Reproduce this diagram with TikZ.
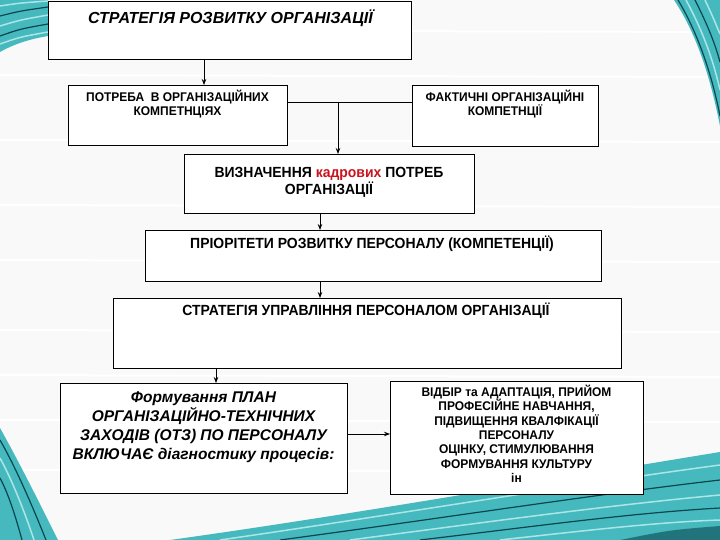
\documentclass[tikz,border=0pt]{standalone}
\usepackage{fontspec}
\setmainfont{Liberation Sans}
\newfontfamily\narrow[FakeStretch=0.95]{Liberation Sans}
\usetikzlibrary{arrows.meta}
\definecolor{tealA}{RGB}{70,185,190}
\definecolor{tealL}{RGB}{170,230,230}
\definecolor{tealD}{RGB}{10,70,80}
\definecolor{redword}{RGB}{200,20,30}
\begin{document}
\begin{tikzpicture}[x=1pt,y=-1pt,
  box/.style={draw=black, line width=0.8pt, fill=white, inner sep=0pt, anchor=north west},
  txt/.style={inner sep=0pt, anchor=north, align=center},
  arr/.style={draw=black, line width=0.8pt, -{Stealth[length=6pt,width=4.5pt]}},
  conn/.style={draw=black, line width=0.8pt},
  streakD/.style={draw=tealD, line width=1.2pt},
  streakL/.style={draw=tealL, line width=1.5pt}]
\useasboundingbox (0,0) rectangle (720,540);
\fill[gray!5] (0,0) rectangle (720,540);
\foreach \yy in {30,75,140,205,260,330,375,420,470}{
  \draw[white, line width=2pt] (0,\yy) -- (720,\yy+2);
}
% top-left swoosh
\fill[tealA] (0,0) -- (48,0) -- (48,36) .. controls (30,39) and (14,44) .. (0,52) -- cycle;
\draw[streakL] (0,6) .. controls (20,3) .. (48,1);
\draw[streakD] (0,16) .. controls (20,11) .. (48,7);
\draw[streakL] (0,26) .. controls (20,20) .. (48,15);
\draw[streakD] (0,36) .. controls (20,29) .. (48,24);
\draw[streakL] (0,44) .. controls (20,37) .. (48,32);
% top-right swoosh
\fill[tealA] (674,0) .. controls (694,30) and (709,70) .. (720,126) -- (720,0) -- cycle;
\draw[streakD] (678,0) .. controls (696,30) and (711,70) .. (720,116);
\draw[streakL] (686,0) .. controls (701,28) and (712,55) .. (720,90);
\draw[streakD] (695,0) .. controls (706,22) and (714,40) .. (720,62);
\draw[streakL] (705,0) .. controls (712,15) .. (720,34);
% bottom-left swoosh
\fill[tealA] (0,428) .. controls (18,460) and (38,500) .. (58,540) -- (0,540) -- cycle;
\draw[streakD] (0,440) .. controls (16,468) and (32,505) .. (46,540);
\draw[streakL] (0,458) .. controls (12,480) and (24,510) .. (34,540);
\draw[streakD] (0,478) .. controls (9,495) and (16,518) .. (22,540);
% bottom-right swoosh
\fill[tealA] (170,540) .. controls (350,515) and (560,478) .. (720,452) -- (720,540) -- cycle;
\draw[streakL] (220,540) .. controls (380,517) and (570,485) .. (720,465);
\draw[streakD] (280,540) .. controls (430,520) and (590,495) .. (720,480);
\draw[streakL] (350,540) .. controls (480,523) and (610,505) .. (720,495);
\draw[streakD] (420,540) .. controls (530,527) and (630,513) .. (720,508);
\draw[streakL] (500,540) .. controls (590,530) and (660,522) .. (720,520);
\fill[tealD, opacity=0.6] (620,540) .. controls (670,530) .. (720,526) -- (720,540) -- cycle;

% boxes
\node[box, minimum width=363pt, minimum height=58pt] (b1) at (48,1) {};
\node[box, minimum width=219pt, minimum height=60pt] (b2) at (68,85) {};
\node[box, minimum width=186pt, minimum height=61pt] (b3) at (412,85) {};
\node[box, minimum width=290pt, minimum height=59pt] (b4) at (184,154) {};
\node[box, minimum width=456pt, minimum height=51pt] (b5) at (145,230) {};
\node[box, minimum width=508pt, minimum height=70pt] (b6) at (113,298) {};
\node[box, minimum width=287pt, minimum height=110pt] (b7) at (60,383) {};
\node[box, minimum width=253pt, minimum height=113pt] (b8) at (390,381) {};

% texts
\node[txt, font=\fontsize{16}{18}\selectfont\bfseries\itshape] (t1) at (230.5,10) {СТРАТЕГІЯ РОЗВИТКУ ОРГАНІЗАЦІЇ};
\node[txt, font=\narrow\fontsize{12.6}{14}\selectfont\bfseries] (t2) at (177.5,90) {ПОТРЕБА\ \ В ОРГАНІЗАЦІЙНИХ\\КОМПЕТНЦІЯХ};
\node[txt, font=\narrow\fontsize{12.6}{14}\selectfont\bfseries] (t3) at (505,90) {ФАКТИЧНІ ОРГАНІЗАЦІЙНІ\\КОМПЕТНЦІЇ};
\node[txt, font=\narrow\fontsize{14.7}{17.5}\selectfont\bfseries] (t4) at (329,167) {ВИЗНАЧЕННЯ \textcolor{redword}{кадрових} ПОТРЕБ\\ОРГАНІЗАЦІЇ};
\node[txt, font=\narrow\fontsize{14.7}{17}\selectfont\bfseries] (t5) at (372,236) {ПРІОРІТЕТИ РОЗВИТКУ ПЕРСОНАЛУ (КОМПЕТЕНЦІЇ)};
\node[txt, font=\narrow\fontsize{14.7}{17}\selectfont\bfseries] (t6) at (366,303) {СТРАТЕГІЯ УПРАВЛІННЯ ПЕРСОНАЛОМ ОРГАНІЗАЦІЇ};
\node[txt, font=\fontsize{15.5}{18.7}\selectfont\bfseries\itshape] (t7) at (203.5,392) {Формування ПЛАН\\ОРГАНІЗАЦІЙНО-ТЕХНІЧНИХ\\ЗАХОДІВ (ОТЗ) ПО ПЕРСОНАЛУ\\ВКЛЮЧАЄ діагностику процесів:};
\node[txt, font=\narrow\fontsize{12.6}{14.3}\selectfont\bfseries] (t8) at (516.5,385) {ВІДБІР та АДАПТАЦІЯ, ПРИЙОМ\\ПРОФЕСІЙНЕ НАВЧАННЯ,\\ПІДВИЩЕННЯ КВАЛФІКАЦІЇ\\ПЕРСОНАЛУ\\ОЦІНКУ, СТИМУЛЮВАННЯ\\ФОРМУВАННЯ КУЛЬТУРУ\\ін};

% connectors
\coordinate (j) at (338,102);
\draw[arr] (b1.south -| 204,0) -- (b2.north -| 204,0);
\draw[conn] (b2.east |- j) -- (b3.west |- j);
\draw[arr] (j) -- (b4.north -| j);
\draw[arr] (b4.south -| 320,0) -- (b5.north -| 320,0);
\draw[arr] (b5.south -| 320,0) -- (b6.north -| 320,0);
\draw[arr] (b6.south -| 216,0) -- (b7.north -| 216,0);
\draw[arr] (b7.east |- 0,434) -- (b8.west |- 0,434);
\end{tikzpicture}
\end{document}
